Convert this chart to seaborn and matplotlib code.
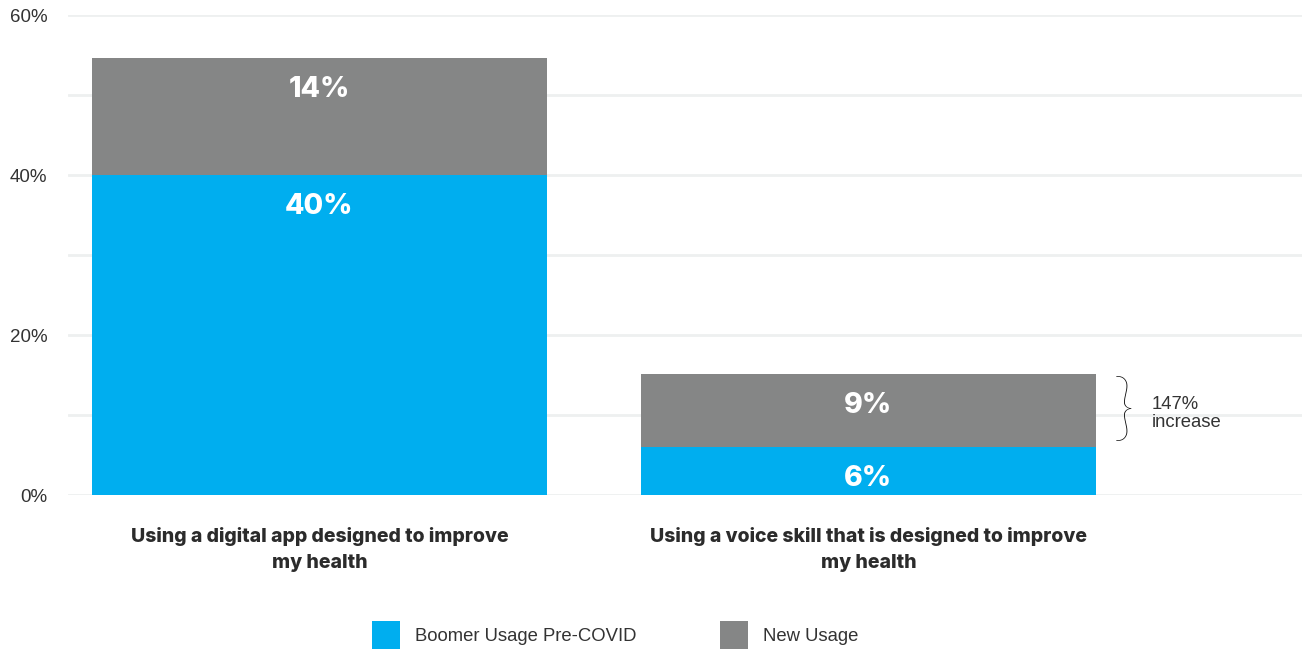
import matplotlib
matplotlib.use("Agg")
import matplotlib.pyplot as plt
import seaborn as sns
import numpy as np
from matplotlib.patches import Patch

categories = ["Using a digital app designed to improve\nmy health",
              "Using a voice skill that is designed to improve\nmy health"]
pre_covid = [40.0, 6.0]
new_usage = [14.6, 9.1]
pre_labels = ["40%", "6%"]
new_labels = ["14%", "9%"]
series_names = ["Boomer Usage Pre-COVID", "New Usage"]
yticks = [0, 20, 40, 60]
ytick_labels = ["0%", "20%", "40%", "60%"]

BLUE = "#00aeef"
GRAY = "#858686"

sns.set_theme(style="white")
plt.rcParams['font.family'] = ['Liberation Sans', 'DejaVu Sans']

fig = plt.figure(figsize=(13.02, 6.49), dpi=100)
ax = fig.add_axes([68/1302, (649-495)/649, (1302-68)/1302, 480/649])

totals = [a + b for a, b in zip(pre_covid, new_usage)]
sns.barplot(x=categories, y=totals, color=GRAY, saturation=1, width=0.83, ax=ax,
            zorder=3, linewidth=0, edgecolor='none')
sns.barplot(x=categories, y=pre_covid, color=BLUE, saturation=1, width=0.83, ax=ax,
            zorder=3, linewidth=0, edgecolor='none')

ax.set_xlim(-0.458, 1.79)
ax.set_ylim(0, 60)
ax.set_yticks(yticks)
ax.set_yticks(np.arange(0, 61, 10), minor=True)
ax.set_yticklabels(ytick_labels)
ax.grid(True, axis='y', which='both', color='#eef0f0', linewidth=2, zorder=0)
ax.grid(False, axis='x')
for s in ax.spines.values():
    s.set_visible(False)
ax.tick_params(axis='y', which='both', length=0, pad=15, labelsize=13.5, labelcolor='#333333')
ax.tick_params(axis='x', length=0, pad=23)
ax.set_xticks([0, 1])
ax.set_xticklabels(categories, fontsize=14, fontweight='heavy', color='#2b2b2b',
                   family=['Inter', 'DejaVu Sans'], linespacing=1.6)
ax.set_ylabel("")
ax.set_xlabel("")

for i in range(len(categories)):
    ax.annotate(pre_labels[i], xy=(i, pre_covid[i]), xytext=(0, -22.5), textcoords='offset points',
                ha='center', va='center', color='white', fontsize=20.5, fontweight='heavy',
                family=['Inter', 'DejaVu Sans'], zorder=5)
    ax.annotate(new_labels[i], xy=(i, totals[i]), xytext=(0, -22.5), textcoords='offset points',
                ha='center', va='center', color='white', fontsize=20.5, fontweight='heavy',
                family=['Inter', 'DejaVu Sans'], zorder=5)

# brace annotation
ax.text(1.466, 10.4, "}", ha='center', va='center', fontsize=54, color='#111111',
        family=['Lato'], fontweight='light')
ax.text(1.516, 10.2, "147%\nincrease", ha='left', va='center', fontsize=13.3,
        color='#333333', linespacing=1.1)

handles = [Patch(facecolor=BLUE, edgecolor='none'), Patch(facecolor=GRAY, edgecolor='none')]
fig.legend(handles, series_names, loc='center', bbox_to_anchor=(0.4725, 0.022), ncol=2,
           frameon=False, fontsize=13.3, handlelength=1.55, handleheight=1.95,
           handletextpad=0.8, columnspacing=4.5, labelcolor='#333333')

fig.savefig("out.png", dpi=100)
